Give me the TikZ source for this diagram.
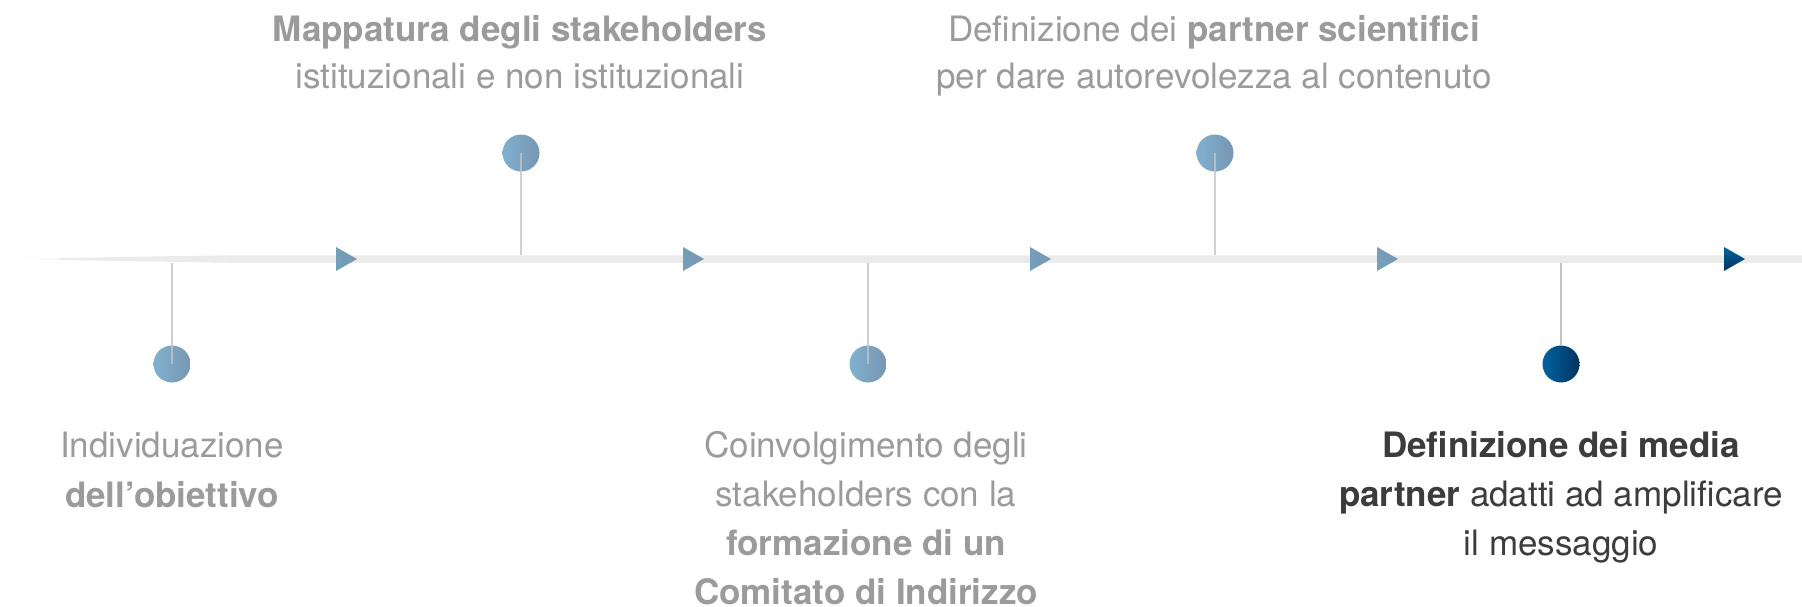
\documentclass[tikz,border=0pt]{standalone}
\usepackage{fontspec}
\setmainfont{TeX Gyre Heros}
\definecolor{txtgray}{HTML}{9B9B9B}
\definecolor{txtdark}{HTML}{3C3C3C}
\definecolor{linegray}{HTML}{EBEBEB}
\definecolor{stemgray}{HTML}{C4C4C4}
\definecolor{blueL}{HTML}{80B1D0}
\definecolor{blueR}{HTML}{7796B1}
\definecolor{navyL}{HTML}{0063A0}
\definecolor{navyR}{HTML}{00335F}
\tikzset{
  dot/.style={circle, minimum size=37pt, inner sep=0pt, draw=none, left color=blueL, right color=blueR},
  dotdark/.style={dot, left color=navyL, right color=navyR},
  stem/.style={draw=stemgray, line width=1.5pt},
  tri/.style={left color=blueL!90!black, right color=blueR},
  tridark/.style={top color=navyL, bottom color=navyR},
  lbl/.style={anchor=base, inner sep=0pt, text=txtgray},
}
\newcommand{\labtab}[3]{{\fontsize{#1}{#2}\selectfont\begin{tabular}[t]{@{}c@{}}#3\end{tabular}}}
\begin{document}
\begin{tikzpicture}[x=1pt,y=-1pt]
\useasboundingbox (0,0) rectangle (1802,606);
% timeline
\fill[linegray] (14,259) -- (120,257) -- (230,255.3) -- (1802,255.3) -- (1802,262.8) -- (230,262.8) -- (120,261) -- cycle;
\fill[white, opacity=0.5] (14,255) rectangle (60,263);
% arrows
\foreach \ax in {336,683,1030,1377}{
  \shade[tri] (\ax,247) -- (\ax+21,259) -- (\ax,271) -- cycle;
}
\shade[tridark] (1724,247) -- (1745,259) -- (1724,271) -- cycle;
% anchor points on the timeline
\coordinate (b1) at (172,263);
\coordinate (b2) at (521,255);
\coordinate (b3) at (868,263);
\coordinate (b4) at (1215,255);
\coordinate (b5) at (1561,263);
% circles
\node[dot] (c1) at (172,364) {};
\node[dot] (c2) at (521,153) {};
\node[dot] (c3) at (868,364) {};
\node[dot] (c4) at (1215,153) {};
\node[dotdark] (c5) at (1561,364) {};
\draw[stem, opacity=0.8] (b1) -- (c1.center);
\draw[stem, opacity=0.8] (b2) -- (c2.center);
\draw[stem, opacity=0.8] (b3) -- (c3.center);
\draw[stem, opacity=0.8] (b4) -- (c4.center);
\draw[stem] (b5) -- (c5.north);
% labels
\node[lbl] (t1) at (172,457) {\labtab{35}{50}{Individuazione\\\textbf{dell’obiettivo}}};
\node[lbl] (t2) at (520,41) {\labtab{35}{47}{\textbf{Mappatura degli stakeholders}\\istituzionali e non istituzionali}};
\node[lbl] (t3) at (866,457) {\labtab{35}{49}{Coinvolgimento degli\\stakeholders con la\\\textbf{formazione di un}\\\textbf{Comitato di Indirizzo}}};
\node[lbl] (t4) at (1214,41) {\labtab{35}{47}{Definizione dei \textbf{partner scientifici}\\per dare autorevolezza al contenuto}};
\node[lbl, text=txtdark] (t5) at (1561,457) {\labtab{35}{49}{\textbf{Definizione dei media}\\\textbf{partner} adatti ad amplificare\\il messaggio}};
\end{tikzpicture}
\end{document}
